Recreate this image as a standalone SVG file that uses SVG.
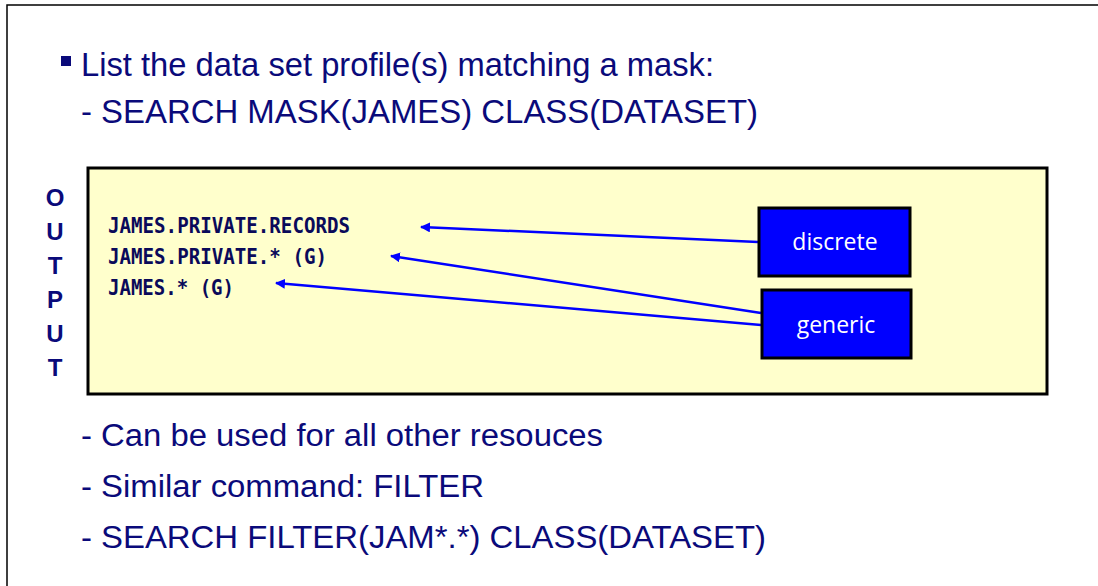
<svg xmlns="http://www.w3.org/2000/svg" width="1098" height="586" viewBox="0 0 1098 586">
  <style>
    .body { font-family: "Liberation Sans", Arial, sans-serif; font-size: 32.5px; fill: #0a0a7a; }
    .narrow { font-family: "Liberation Sans", Arial, sans-serif; font-size: 31px; fill: #0a0a7a; }
    .vert { font-family: "Liberation Sans", Arial, sans-serif; font-size: 24px; font-weight: bold; fill: #0a0a7a; text-anchor: middle; }
    .mono { font-family: "DejaVu Sans Mono", "Liberation Mono", monospace; font-size: 20.5px; font-weight: bold; fill: #0a0a5a; }
    .tag { fill: #0000ff; stroke: #000; stroke-width: 3; }
    .tagtxt { font-family: "Open Sans", "Liberation Sans", sans-serif; font-size: 23px; fill: #fff; text-anchor: middle; }
    .conn { stroke: #0000ff; stroke-width: 2.5; fill: none; marker-end: url(#head); }
  </style>
  <defs>
    <marker id="head" viewBox="0 0 10 10" refX="9" refY="5" markerWidth="4" markerHeight="4" orient="auto" markerUnits="strokeWidth">
      <path d="M0,0 L10,5 L0,10 z" fill="#0000ff"/>
    </marker>
  </defs>

  <rect width="1098" height="586" fill="#fff"/>
  <!-- slide frame -->
  <path d="M7,586 L7,5 L1098,5" fill="none" stroke="#000" stroke-width="1.5"/>

  <!-- heading -->
  <rect x="61" y="56" width="10" height="10" fill="#0a0a7a"/>
  <text class="body" x="81" y="76" textLength="633" lengthAdjust="spacingAndGlyphs">List the data set profile(s) matching a mask:</text>
  <text class="body" x="81" y="123" textLength="677" lengthAdjust="spacingAndGlyphs">- SEARCH MASK(JAMES) CLASS(DATASET)</text>

  <!-- output panel -->
  <g id="output">
    <rect x="88" y="168" width="959" height="226" fill="#ffffcc" stroke="#000" stroke-width="3"/>
    <text class="mono" x="108" y="233" textLength="242" lengthAdjust="spacingAndGlyphs">JAMES.PRIVATE.RECORDS</text>
    <text class="mono" x="108" y="264" textLength="219" lengthAdjust="spacingAndGlyphs">JAMES.PRIVATE.* (G)</text>
    <text class="mono" x="108" y="295" textLength="126" lengthAdjust="spacingAndGlyphs">JAMES.* (G)</text>
  </g>

  <g id="output-label">
    <text class="vert" x="55" y="206">O</text>
    <text class="vert" x="55" y="240">U</text>
    <text class="vert" x="55" y="274">T</text>
    <text class="vert" x="55" y="308">P</text>
    <text class="vert" x="55" y="342">U</text>
    <text class="vert" x="55" y="376">T</text>
  </g>

  <!-- connectors -->
  <g id="connectors">
    <line class="conn" x1="758" y1="242" x2="421" y2="227"/>
    <line class="conn" x1="761" y1="313" x2="391" y2="256"/>
    <line class="conn" x1="761" y1="325" x2="276" y2="283"/>
  </g>

  <g id="discrete">
    <rect class="tag" x="759" y="208" width="151" height="68"/>
    <text class="tagtxt" x="835" y="250">discrete</text>
  </g>

  <g id="generic">
    <rect class="tag" x="762" y="290" width="149" height="68"/>
    <text class="tagtxt" x="836" y="333">generic</text>
  </g>

  <!-- notes -->
  <text class="narrow" x="81" y="446" textLength="522" lengthAdjust="spacingAndGlyphs">- Can be used for all other resouces</text>
  <text class="narrow" x="81" y="497" textLength="403" lengthAdjust="spacingAndGlyphs">- Similar command: FILTER</text>
  <text class="narrow" x="81" y="548" textLength="685" lengthAdjust="spacingAndGlyphs">- SEARCH FILTER(JAM*.*) CLASS(DATASET)</text>
</svg>
